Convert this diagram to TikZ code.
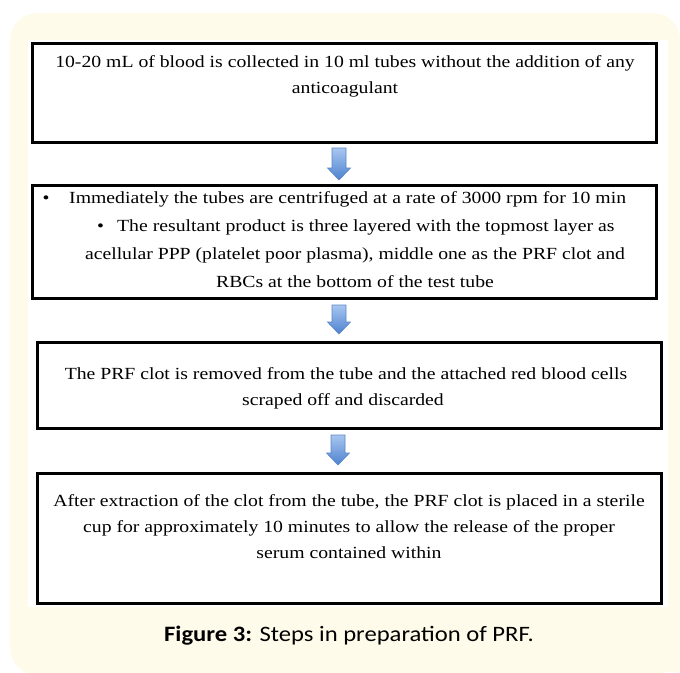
\documentclass[tikz,border=0pt]{standalone}
\usepackage{fontspec}
\setmainfont{Liberation Serif}[FakeStretch=1.16]
\newfontfamily\capfont{Carlito}[FakeStretch=1.12]
\usetikzlibrary{calc}
\definecolor{cream}{HTML}{FFFBEA}
\definecolor{arrowtop}{HTML}{A9C6F0}
\definecolor{arrowbot}{HTML}{4C82CF}
\definecolor{arrowedge}{HTML}{5A86C6}
\tikzset{
  stepbox/.style={draw=black, line width=3pt, fill=white},
  ln/.style={inner sep=0pt, anchor=base, font=\fontsize{17}{20}\selectfont},
  lnw/.style={ln, anchor=base west},
  downarrow/.style={top color=arrowtop, bottom color=arrowbot, draw=arrowedge, line width=0.6pt},
}
\newcommand{\blockarrow}[2]{%
  \path[downarrow] ($(#1)+(-7,0)$) -- ($(#1)+(7,0)$) -- ($(#2)+(7,-12)$) -- ($(#2)+(11.5,-12)$)
    -- (#2) -- ($(#2)+(-11.5,-12)$) -- ($(#2)+(-7,-12)$) -- cycle;
}
\begin{document}
\begin{tikzpicture}[x=1pt,y=-1pt]
\useasboundingbox (0,0) rectangle (680,672);
\fill[cream, rounded corners=27pt] (10,13) rectangle (680,675);
\fill[cream] (640,630) rectangle (680,672);
\fill[white] (28,40) rectangle (668,607);

% boxes
\draw[stepbox] (32,43) rectangle (656,142);
\draw[stepbox] (32,185) rectangle (656,298);
\draw[stepbox] (37,342) rectangle (661,428);
\draw[stepbox] (37,473) rectangle (661,603);

% box 1
\node[ln] (t1a) at (345,67.5) {10-20 mL of blood is collected in 10 ml tubes without the addition of any};
\node[ln] (t1b) at (345,93.5) {anticoagulant};
% box 2
\node[lnw] (t2a) at (42.5,203) {\makebox[26.5pt][l]{\textbullet}Immediately the tubes are centrifuged at a rate of 3000 rpm for 10 min};
\node[lnw] (t2b) at (97,231) {\makebox[20pt][l]{\textbullet}The resultant product is three layered with the topmost layer as};
\node[ln] (t2c) at (355,259) {acellular PPP (platelet poor plasma), middle one as the PRF clot and};
\node[ln] (t2d) at (355,287) {RBCs at the bottom of the test tube};
% box 3
\node[ln] (t3a) at (346,379) {The PRF clot is removed from the tube and the attached red blood cells};
\node[ln] (t3b) at (343,405) {scraped off and discarded};
% box 4
\node[ln] (t4a) at (349,506) {After extraction of the clot from the tube, the PRF clot is placed in a sterile};
\node[ln] (t4b) at (349,532) {cup for approximately 10 minutes to allow the release of the proper};
\node[ln] (t4c) at (349,558) {serum contained within};

% arrows
\coordinate (a1t) at (339,148); \coordinate (a1b) at (339,180);
\coordinate (a2t) at (339,305); \coordinate (a2b) at (339,334);
\coordinate (a3t) at (338,435); \coordinate (a3b) at (338,465);
\blockarrow{a1t}{a1b}
\blockarrow{a2t}{a2b}
\blockarrow{a3t}{a3b}

% caption
\node[inner sep=0pt, anchor=base, font=\capfont\fontsize{22}{26}\selectfont] (cap) at (349,641)
  {\textbf{Figure 3:} Steps in preparation of PRF.};
\end{tikzpicture}
\end{document}
